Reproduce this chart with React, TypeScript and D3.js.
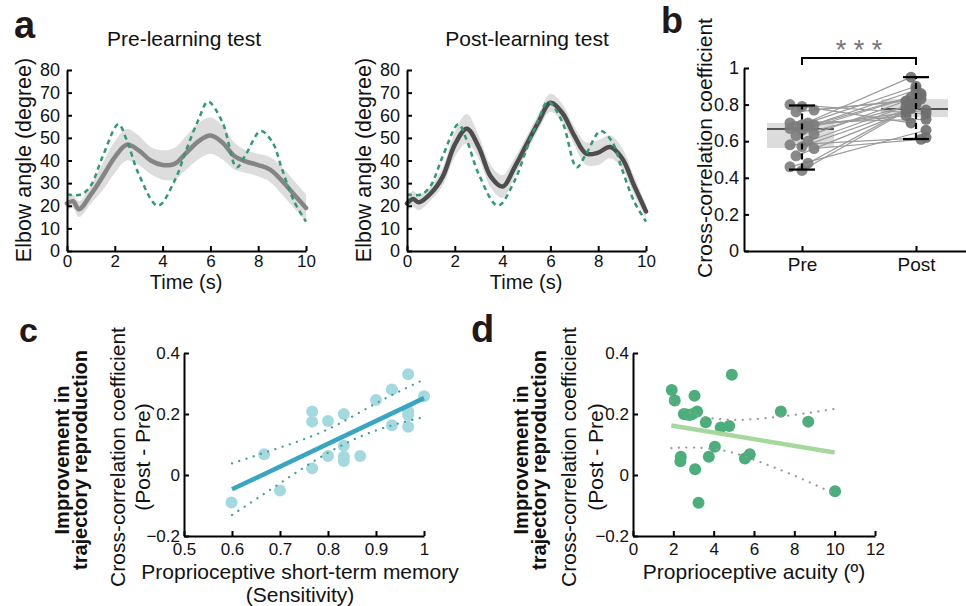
import React, { useRef, useEffect } from 'react';
import * as d3 from 'd3';

const FONT = '"Liberation Sans", Arial, Helvetica, sans-serif';

// panel a: elbow angle traces
const timeS = [0, 0.25, 0.5, 1, 1.5, 2, 2.5, 3, 3.5, 4, 4.5, 5, 5.5, 6, 6.5, 7, 7.5, 8, 8.5, 9, 9.5, 10];
const preMean = [21, 22, 18.5, 25, 33, 41.5, 47, 44.5, 40, 38, 38.5, 43.5, 48.5, 51, 48, 42, 39.5, 38, 36, 31, 25, 19];
const preSd = [3, 3, 3.5, 4, 6, 7, 7, 6.5, 6, 6.5, 7, 7.5, 8, 8, 7.5, 6, 5, 5, 5.5, 6, 6, 6];
const postMean = [21, 23, 21.5, 25.5, 33, 47, 54, 46, 33, 28.5, 37, 47, 57, 65.5, 61, 51, 43, 43.5, 46, 41, 29, 17.5];
const postSd = [3.5, 3.5, 3.5, 3, 4, 5.5, 6.5, 5, 5, 5, 4, 3.5, 3.5, 4, 4, 4, 5, 5.5, 5, 4.5, 4, 3];
const targetTime = [0, 0.6, 1, 1.5, 2.15, 2.5, 3, 3.8, 4.5, 5, 5.5, 5.9, 6.5, 7.1, 7.5, 8.1, 8.6, 9, 9.5, 10];
const targetAngle = [25, 25, 29, 42, 56, 49, 34, 20, 31, 45, 58, 66, 57, 37, 43, 53, 48, 36, 22, 13];
const angleTicks = [0, 10, 20, 30, 40, 50, 60, 70, 80];
const timeTicks = [0, 2, 4, 6, 8, 10];

// panel b: cross-correlation per subject
const groups = ['Pre', 'Post'];
const preCorr = [0.80, 0.79, 0.77, 0.76, 0.70, 0.70, 0.69, 0.69, 0.68, 0.68, 0.67, 0.66, 0.64, 0.63, 0.60, 0.58, 0.57, 0.56, 0.52, 0.48, 0.46, 0.44];
const postCorr = [0.75, 0.70, 0.83, 0.82, 0.90, 0.72, 0.95, 0.86, 0.74, 0.88, 0.77, 0.84, 0.85, 0.79, 0.81, 0.62, 0.78, 0.61, 0.76, 0.80, 0.66, 0.78];
const groupMean = [0.667, 0.776];
const boxLow = [0.563, 0.732];
const boxHigh = [0.70, 0.83];
const whiskerLow = [0.445, 0.612];
const whiskerHigh = [0.795, 0.95];
const corrTicks = [0, 0.2, 0.4, 0.6, 0.8, 1];

// panel c
const cMemory = [0.599, 0.667, 0.70, 0.767, 0.767, 0.767, 0.80, 0.80, 0.833, 0.833, 0.833, 0.833, 0.867, 0.90, 0.933, 0.933, 0.967, 0.967, 0.967, 0.967, 1.0];
const cImprove = [-0.09, 0.068, -0.051, 0.208, 0.175, 0.022, 0.177, 0.062, 0.20, 0.096, 0.06, 0.046, 0.062, 0.246, 0.28, 0.163, 0.33, 0.208, 0.197, 0.158, 0.258];
const cFitX = [0.6, 1.0];
const cFitY = [-0.047, 0.252];
const cBandX = [0.6, 0.7, 0.8, 0.9, 1.0];
const cUpper = [0.038, 0.09, 0.15, 0.235, 0.313];
const cLower = [-0.131, -0.027, 0.073, 0.146, 0.19];
const cTicksX = [0.5, 0.6, 0.7, 0.8, 0.9, 1];

// panel d
const dAcuity = [1.92, 2.07, 3.05, 2.52, 2.81, 3.18, 3.61, 4.35, 4.77, 4.90, 4.06, 2.37, 2.35, 3.76, 3.08, 3.25, 5.55, 5.79, 7.33, 8.69, 10.02, 2.66, 2.95];
const dImprove = [0.279, 0.244, 0.26, 0.2, 0.197, 0.208, 0.173, 0.156, 0.161, 0.329, 0.093, 0.06, 0.045, 0.06, 0.019, -0.091, 0.054, 0.068, 0.208, 0.175, -0.053, 0.198, 0.2];
const dFitX = [1.9, 10];
const dFitY = [0.162, 0.074];
const dBandX = [1.9, 3, 4.5, 6, 8, 10];
const dUpper = [0.245, 0.2, 0.182, 0.183, 0.197, 0.217];
const dLower = [0.088, 0.09, 0.08, 0.05, -0.002, -0.062];
const dTicksX = [0, 2, 4, 6, 8, 10, 12];
const improveTicks = [-0.2, 0, 0.2, 0.4];

const Axis = ({ scale, side, x = 0, y = 0, values, format, padding, size = 18 }) => {
  const ref = useRef(null);
  useEffect(() => {
    const ax = (side === 'left' ? d3.axisLeft(scale) : d3.axisBottom(scale))
      .tickValues(values)
      .tickFormat(format)
      .tickSizeInner(-5)
      .tickSizeOuter(0)
      .tickPadding(padding);
    const g = d3.select(ref.current).call(ax);
    g.attr('font-family', FONT).attr('font-size', size);
    g.select('.domain').attr('stroke', '#000').attr('stroke-width', 2);
    g.selectAll('.tick line').attr('stroke', '#000').attr('stroke-width', 2);
    g.selectAll('.tick text').attr('fill', '#111');
  }, [scale, side, values, format, padding, size]);
  return <g ref={ref} transform={`translate(${x},${y})`} />;
};

const Label = ({ x, y, text, size = 21, rotate = false, weight = 400, anchor = 'middle' }) => (
  <text
    transform={`translate(${x},${y})${rotate ? ' rotate(-90)' : ''}`}
    textAnchor={anchor}
    fontFamily={FONT}
    fontSize={size}
    fontWeight={weight}
    fill="#111"
  >
    {text}
  </text>
);

const TracePanel = ({ left, mean, sd, lineColor, title, titleX }) => {
  const x = d3.scaleLinear().domain([0, 10]).range([left, left + 239]);
  const y = d3.scaleLinear().domain([0, 80]).range([251, 70]);
  const band = d3.area()
    .x((d, i) => x(timeS[i]))
    .y0((d, i) => y(mean[i] - sd[i]))
    .y1((d, i) => y(mean[i] + sd[i]))
    .curve(d3.curveCatmullRom.alpha(0.5));
  const line = d3.line()
    .x((d, i) => x(timeS[i]))
    .y(d => y(d))
    .curve(d3.curveCatmullRom.alpha(0.5));
  const target = d3.line()
    .x((d, i) => x(targetTime[i]))
    .y(d => y(d))
    .curve(d3.curveCatmullRom.alpha(0.5));
  return (
    <g>
      <path d={band(mean)} fill="#d9d9d9" opacity={0.9} />
      <path d={line(mean)} fill="none" stroke={lineColor} strokeWidth={4.5} strokeLinecap="round" />
      <path d={target(targetAngle)} fill="none" stroke="#2f9a73" strokeWidth={2.5} strokeDasharray="5,4" />
      <Axis scale={y} side="left" x={left} values={angleTicks} format={d3.format('d')} padding={7} />
      <Axis scale={x} side="bottom" y={251} values={timeTicks} format={d3.format('d')} padding={4} size={17} />
      <Label x={titleX} y={46} text={title} size={21} />
      <Label x={left - 36} y={160} text="Elbow angle (degree)" rotate size={21.5} />
      <Label x={left + 119} y={289} text="Time (s)" size={20} />
    </g>
  );
};

const PairedPanel = () => {
  const x = d3.scaleLinear().domain([0.5, 2.5]).range([745, 973]);
  const y = d3.scaleLinear().domain([0, 1]).range([251, 68]);
  const jitter = (i, spread) => ((i * 7) % 5 - 2) * spread;
  const fmt = d => (d === 0 || d === 1 ? String(d) : d3.format('.1f')(d));
  return (
    <g>
      {groups.map((g, k) => (
        <g key={g}>
          <rect x={x(k + 1) - 35} width={67} y={y(boxHigh[k])} height={y(boxLow[k]) - y(boxHigh[k])} fill="#dcdcdc" />
          <line x1={x(k + 1) - 35} x2={x(k + 1) + 32} y1={y(groupMean[k])} y2={y(groupMean[k])} stroke="#555" strokeWidth={2} />
        </g>
      ))}
      {preCorr.map((d, i) => (
        <line key={i} x1={x(1) + jitter(i, 6)} y1={y(d)} x2={x(2) + jitter(i + 2, 5)} y2={y(postCorr[i])} stroke="#9a9a9a" strokeWidth={1.2} />
      ))}
      {preCorr.map((d, i) => (
        <circle key={'p' + i} cx={x(1) + jitter(i, 6)} cy={y(d)} r={5.5} fill="#7c7c7c" opacity={0.9} />
      ))}
      {postCorr.map((d, i) => (
        <circle key={'q' + i} cx={x(2) + jitter(i + 2, 5)} cy={y(d)} r={5.5} fill="#6f6f6f" opacity={0.9} />
      ))}
      {groups.map((g, k) => (
        <g key={'e' + g} stroke="#000" strokeWidth={2.2}>
          <line x1={x(k + 1)} x2={x(k + 1)} y1={y(whiskerLow[k])} y2={y(whiskerHigh[k])} strokeDasharray="6,4" />
          <line x1={x(k + 1) - 13} x2={x(k + 1) + 13} y1={y(whiskerLow[k])} y2={y(whiskerLow[k])} />
          <line x1={x(k + 1) - 13} x2={x(k + 1) + 13} y1={y(whiskerHigh[k])} y2={y(whiskerHigh[k])} />
        </g>
      ))}
      <path d={`M${x(1)},65V58H${x(2)}V65`} fill="none" stroke="#000" strokeWidth={2} />
      <text x={(x(1) + x(2)) / 2} y={59} textAnchor="middle" fontFamily={FONT} fontSize={27} fill="#777">* * *</text>
      <Axis scale={y} side="left" x={744} values={corrTicks} format={fmt} padding={5} />
      <Axis scale={x} side="bottom" y={251} values={[1, 2]} format={d => groups[d - 1]} padding={7} size={19} />
      <Label x={712} y={148} text="Cross-correlation coefficient" rotate size={21} />
    </g>
  );
};

const ScatterPanel = ({ x, xs, ys, fitX, fitY, bandX, upper, lower, dot, fitColor, dotted, ticksX, fmtX, yAxisX, textX, xLabel, xLabelX }) => {
  const y = d3.scaleLinear().domain([-0.2, 0.4]).range([536, 353]);
  const line = d3.line().x((d, i) => x(bandX[i])).y(d => y(d)).curve(d3.curveNatural);
  const fit = d3.line().x((d, i) => x(fitX[i])).y(d => y(d));
  const fmtY = d => (d === 0 ? '0' : d3.format('.1f')(d));
  return (
    <g>
      {xs.map((d, i) => (
        <circle key={i} cx={x(d)} cy={y(ys[i])} r={6} fill={dot} />
      ))}
      <path d={line(upper)} fill="none" stroke={dotted} strokeWidth={2.2} strokeDasharray="0.1,7.5" strokeLinecap="round" />
      <path d={line(lower)} fill="none" stroke={dotted} strokeWidth={2.2} strokeDasharray="0.1,7.5" strokeLinecap="round" />
      <path d={fit(fitY)} fill="none" stroke={fitColor} strokeWidth={4.5} />
      <Axis scale={y} side="left" x={yAxisX} values={improveTicks} format={fmtY} padding={4} size={17} />
      <Axis scale={x} side="bottom" y={536} values={ticksX} format={fmtX} padding={7} size={17} />
      <Label x={textX[0]} y={460} text="Improvement in" rotate size={20} weight={700} />
      <Label x={textX[1]} y={460} text="trajectory reproduction" rotate size={20} weight={700} />
      <Label x={textX[2]} y={457} text="Cross-correlation coefficient" rotate size={21} />
      <Label x={textX[3]} y={457} text="(Post - Pre)" rotate size={21} />
      {xLabel.map((t, i) => (
        <Label key={i} x={xLabelX} y={579 + i * 23} text={t} size={21} />
      ))}
    </g>
  );
};

const App = () => {
  const cx = d3.scaleLinear().domain([0.5, 1]).range([184, 424]);
  const dx = d3.scaleLinear().domain([0, 12]).range([633, 875]);
  return (
    <svg width={966} height={606} style={{ position: 'absolute', left: 0, top: 0, background: '#fff' }}>
      <TracePanel left={67} mean={preMean} sd={preSd} lineColor="#858585" title="Pre-learning test" titleX={184} />
      <TracePanel left={407} mean={postMean} sd={postSd} lineColor="#4d4d4d" title="Post-learning test" titleX={527} />
      <PairedPanel />
      <ScatterPanel
        x={cx} xs={cMemory} ys={cImprove} fitX={cFitX} fitY={cFitY}
        bandX={cBandX} upper={cUpper} lower={cLower}
        dot="#a5d9e0" fitColor="#38a6c0" dotted="#3f9c9e"
        ticksX={cTicksX} fmtX={d => (d === 1 ? '1' : d3.format('.1f')(d))}
        yAxisX={184} textX={[69, 87, 125, 150]}
        xLabel={['Proprioceptive short-term memory', '(Sensitivity)']} xLabelX={300}
      />
      <ScatterPanel
        x={dx} xs={dAcuity} ys={dImprove} fitX={dFitX} fitY={dFitY}
        bandX={dBandX} upper={dUpper} lower={dLower}
        dot="#4cae7a" fitColor="#a6d89e" dotted="#9a9a9a"
        ticksX={dTicksX} fmtX={d3.format('d')}
        yAxisX={633} textX={[528, 546, 576, 603]}
        xLabel={['Proprioceptive acuity (º)']} xLabelX={754}
      />
      <text x={14} y={38} fontFamily={FONT} fontSize={38} fontWeight={700} fill="#231815">a</text>
      <text x={661} y={33} fontFamily={FONT} fontSize={36} fontWeight={700} fill="#231815">b</text>
      <text x={19} y={342} fontFamily={FONT} fontSize={34} fontWeight={700} fill="#231815">c</text>
      <text x={471} y={342} fontFamily={FONT} fontSize={38} fontWeight={700} fill="#231815">d</text>
    </svg>
  );
};

export default App;
